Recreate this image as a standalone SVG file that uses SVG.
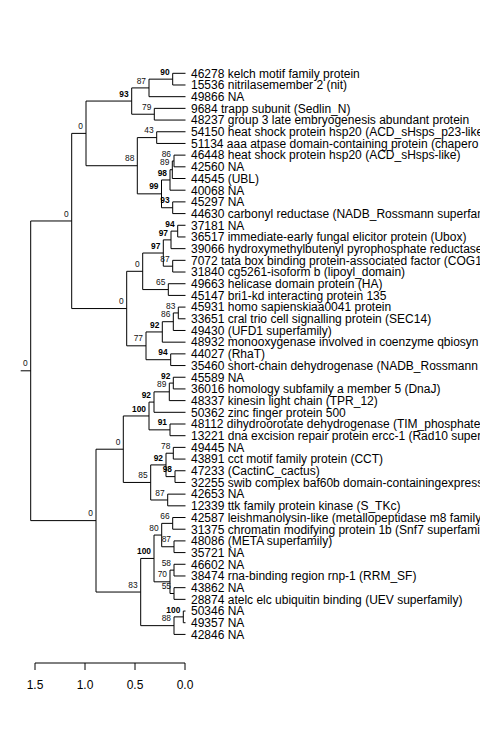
<svg xmlns="http://www.w3.org/2000/svg" width="480" height="735" viewBox="0 0 480 735">
<style>
.e{fill:none;stroke:#000;stroke-width:1}
.t{font-family:"Liberation Sans",Arial,sans-serif;font-size:12px;fill:#000}
.n{font-family:"Liberation Sans",Arial,sans-serif;font-size:8.4px;fill:#111;text-anchor:end}
.b{font-weight:bold;fill:#000}
.a{font-family:"Liberation Sans",Arial,sans-serif;font-size:12px;fill:#000;text-anchor:middle}
</style>
<rect width="480" height="735" fill="#fff"/>
<g id="connectors" class="e">
<path d="M20.7 370.8H30.7M30.7 220.98V520.62
M30.7 220.98H71.7M71.7 133.39V308.56
M71.7 133.39H86M86 101.06V165.72
M86 101.06H131.7M131.7 87.91V114.22
M131.7 87.91H149M149 79.15V96.68
M149 79.15H172.7M172.7 73.3V84.99
M172.7 73.3H185.5M172.7 84.99H185.5M149 96.68H185.5
M131.7 114.22H154.3M154.3 108.37V120.06M154.3 108.37H185.5M154.3 120.06H185.5
M86 165.72H137.3M137.3 137.6V193.85
M137.3 137.6H156.7M156.7 131.75V143.44M156.7 131.75H185.5M156.7 143.44H185.5
M137.3 193.85H161.5M161.5 179.97V207.74
M161.5 179.97H170M170 169.74V190.2
M170 169.74H172.3M172.3 160.98V178.51
M172.3 160.98H174M174 155.13V166.82M174 155.13H185.5M174 166.82H185.5
M172.3 178.51H185.5M170 190.2H185.5
M161.5 207.74H172.7M172.7 201.89V213.58M172.7 201.89H185.5M172.7 213.58H185.5"/>
<path d="M71.7 308.56H126.7M126.7 271.3V345.82
M126.7 271.3H142.7M142.7 253.03V289.57
M142.7 253.03H163.3M163.3 239.88V266.19
M163.3 239.88H171M171 231.12V248.65
M171 231.12H177.7M177.7 225.27V236.96M177.7 225.27H185.5M177.7 236.96H185.5
M171 248.65H185.5
M163.3 266.19H172.7M172.7 260.34V272.03M172.7 260.34H185.5M172.7 272.03H185.5
M142.7 289.57H168.3M168.3 283.72V295.41M168.3 283.72H185.5M168.3 295.41H185.5
M126.7 345.82H146M146 331.94V359.71
M146 331.94H162.3M162.3 321.71V342.17
M162.3 321.71H173.3M173.3 312.95V330.48
M173.3 312.95H178.3M178.3 307.1V318.79M178.3 307.1H185.5M178.3 318.79H185.5
M173.3 330.48H185.5M162.3 342.17H185.5
M146 359.71H170.7M170.7 353.86V365.55M170.7 353.86H185.5M170.7 365.55H185.5"/>
<path d="M30.7 520.62H96M96 449.21V592.04
M96 449.21H123.3M123.3 415.96V482.45
M123.3 415.96H149M149 402.08V429.85
M149 402.08H154M154 391.85V412.31
M154 391.85H169.3M169.3 383.09V400.62
M169.3 383.09H173.3M173.3 377.24V388.93M173.3 377.24H185.5M173.3 388.93H185.5
M169.3 400.62H185.5M154 412.31H185.5
M149 429.85H170M170 424V435.69M170 424H185.5M170 435.69H185.5
M123.3 482.45H150.7M150.7 464.92V499.99
M150.7 464.92H166M166 453.23V476.61
M166 453.23H173.3M173.3 447.38V459.07M173.3 447.38H185.5M173.3 459.07H185.5
M166 476.61H175M175 470.76V482.45M175 470.76H185.5M175 482.45H185.5
M150.7 499.99H167.7M167.7 494.14V505.83M167.7 494.14H185.5M167.7 505.83H185.5"/>
<path d="M96 592.04H140.7M140.7 558.44V625.65
M140.7 558.44H154M154 535.06V581.82
M154 535.06H161.7M161.7 523.37V546.75
M161.7 523.37H172.7M172.7 517.52V529.21M172.7 517.52H185.5M172.7 529.21H185.5
M161.7 546.75H174M174 540.9V552.59M174 540.9H185.5M174 552.59H185.5
M154 581.82H170M170 570.13V593.51
M170 570.13H174M174 564.28V575.97M174 564.28H185.5M174 575.97H185.5
M170 593.51H174M174 587.66V599.35M174 587.66H185.5M174 599.35H185.5
M140.7 625.65H174M174 616.89V634.42
M174 616.89H183.3M183.3 611.04V622.73M183.3 611.04H185.5M183.3 622.73H185.5
M174 634.42H185.5"/>
</g>
<g id="tips" class="t">
<g id="t1"><text x="191" y="77.6">46278 kelch motif family protein</text></g>
<g id="t2"><text x="191" y="89.29">15536 nitrilasemember 2 (nit)</text></g>
<g id="t3"><text x="191" y="100.98">49866 NA</text></g>
<g id="t4"><text x="191" y="112.67">9684 trapp subunit (Sedlin_N)</text></g>
<g id="t5"><text x="191" y="124.36">48237 group 3 late embryogenesis abundant protein</text></g>
<g id="t6"><text x="191" y="136.05">54150 heat shock protein hsp20 (ACD_sHsps_p23-like</text></g>
<g id="t7"><text x="191" y="147.74">51134 aaa atpase domain-containing protein (chapero</text></g>
<g id="t8"><text x="191" y="159.43">46448 heat shock protein hsp20 (ACD_sHsps-like)</text></g>
<g id="t9"><text x="191" y="171.12">42560 NA</text></g>
<g id="t10"><text x="191" y="182.81">44545 (UBL)</text></g>
<g id="t11"><text x="191" y="194.5">40068 NA</text></g>
<g id="t12"><text x="191" y="206.19">45297 NA</text></g>
<g id="t13"><text x="191" y="217.88">44630 carbonyl reductase (NADB_Rossmann superfam</text></g>
<g id="t14"><text x="191" y="229.57">37181 NA</text></g>
<g id="t15"><text x="191" y="241.26">36517 immediate-early fungal elicitor protein (Ubox)</text></g>
<g id="t16"><text x="191" y="252.95">39066 hydroxymethylbutenyl pyrophosphate reductase</text></g>
<g id="t17"><text x="191" y="264.64">7072 tata box binding protein-associated factor (COG1</text></g>
<g id="t18"><text x="191" y="276.33">31840 cg5261-isoform b (lipoyl_domain)</text></g>
<g id="t19"><text x="191" y="288.02">49663 helicase domain protein (HA)</text></g>
<g id="t20"><text x="191" y="299.71">45147 bri1-kd interacting protein 135</text></g>
<g id="t21"><text x="191" y="311.4">45931 homo sapienskiaa0041 protein</text></g>
<g id="t22"><text x="191" y="323.09">33651 cral trio cell signalling protein (SEC14)</text></g>
<g id="t23"><text x="191" y="334.78">49430 (UFD1 superfamily)</text></g>
<g id="t24"><text x="191" y="346.47">48932 monooxygenase involved in coenzyme qbiosyn</text></g>
<g id="t25"><text x="191" y="358.16">44027 (RhaT)</text></g>
<g id="t26"><text x="191" y="369.85">35460 short-chain dehydrogenase (NADB_Rossmann</text></g>
<g id="t27"><text x="191" y="381.54">45589 NA</text></g>
<g id="t28"><text x="191" y="393.23">36016 homology subfamily a member 5 (DnaJ)</text></g>
<g id="t29"><text x="191" y="404.92">48337 kinesin light chain (TPR_12)</text></g>
<g id="t30"><text x="191" y="416.61">50362 zinc finger protein 500</text></g>
<g id="t31"><text x="191" y="428.3">48112 dihydroorotate dehydrogenase (TIM_phosphate</text></g>
<g id="t32"><text x="191" y="439.99">13221 dna excision repair protein ercc-1 (Rad10 super</text></g>
<g id="t33"><text x="191" y="451.68">49445 NA</text></g>
<g id="t34"><text x="191" y="463.37">43891 cct motif family protein (CCT)</text></g>
<g id="t35"><text x="191" y="475.06">47233 (CactinC_cactus)</text></g>
<g id="t36"><text x="191" y="486.75">32255 swib complex baf60b domain-containingexpress</text></g>
<g id="t37"><text x="191" y="498.44">42653 NA</text></g>
<g id="t38"><text x="191" y="510.13">12339 ttk family protein kinase (S_TKc)</text></g>
<g id="t39"><text x="191" y="521.82">42587 leishmanolysin-like (metallopeptidase m8 family</text></g>
<g id="t40"><text x="191" y="533.51">31375 chromatin modifying protein 1b (Snf7 superfami</text></g>
<g id="t41"><text x="191" y="545.2">48086 (META superfamily)</text></g>
<g id="t42"><text x="191" y="556.89">35721 NA</text></g>
<g id="t43"><text x="191" y="568.58">46602 NA</text></g>
<g id="t44"><text x="191" y="580.27">38474 rna-binding region rnp-1 (RRM_SF)</text></g>
<g id="t45"><text x="191" y="591.96">43862 NA</text></g>
<g id="t46"><text x="191" y="603.65">28874 atelc elc ubiquitin binding (UEV superfamily)</text></g>
<g id="t47"><text x="191" y="615.34">50346 NA</text></g>
<g id="t48"><text x="191" y="627.03">49357 NA</text></g>
<g id="t49"><text x="191" y="638.72">42846 NA</text></g>
</g>
<g id="nodelabels" class="n">
<g id="root"><text x="27.7" y="366.4">0</text></g>
<g id="nB"><text x="68.7" y="216.6">0</text></g>
<g id="nA"><text x="83" y="129">0</text></g>
<g id="n93"><text class="b" x="128.7" y="96.7">93</text></g>
<g id="n87"><text x="146" y="83.5">87</text></g>
<g id="n90"><text class="b" x="169.7" y="74.75">90</text></g>
<g id="n79"><text x="151.3" y="109.8">79</text></g>
<g id="n88"><text x="134.3" y="161.3">88</text></g>
<g id="n43"><text x="153.7" y="133.2">43</text></g>
<g id="n99"><text class="b" x="158.5" y="189.45">99</text></g>
<g id="n98"><text class="b" x="167" y="175.6">98</text></g>
<g id="n89"><text x="169.3" y="165.3">89</text></g>
<g id="n86"><text x="171" y="156.6">86</text></g>
<g id="n93b"><text class="b" x="169.7" y="203.3">93</text></g>
<g id="nC"><text x="123.7" y="304.2">0</text></g>
<g id="n0c"><text x="139.7" y="266.9">0</text></g>
<g id="n97b"><text class="b" x="160.3" y="248.6">97</text></g>
<g id="n97a"><text class="b" x="168" y="235.5">97</text></g>
<g id="n94"><text class="b" x="174.7" y="226.7">94</text></g>
<g id="n87b"><text x="169.7" y="261.8">87</text></g>
<g id="n65"><text x="165.3" y="285.2">65</text></g>
<g id="n77"><text x="143" y="341.4">77</text></g>
<g id="n92a"><text class="b" x="159.3" y="327.5">92</text></g>
<g id="n86b"><text x="170.3" y="317.3">86</text></g>
<g id="n83"><text x="175.3" y="308.55">83</text></g>
<g id="n94b"><text class="b" x="167.7" y="355.3">94</text></g>
<g id="n0f"><text x="93" y="516.2">0</text></g>
<g id="n0e"><text x="120.3" y="444.8">0</text></g>
<g id="n100a"><text class="b" x="146" y="411.6">100</text></g>
<g id="n92c"><text class="b" x="151" y="397.7">92</text></g>
<g id="n89b"><text x="166.3" y="387.45">89</text></g>
<g id="n92b"><text class="b" x="170.3" y="378.7">92</text></g>
<g id="n91"><text class="b" x="167" y="425.45">91</text></g>
<g id="n85"><text x="147.7" y="478.05">85</text></g>
<g id="n92d"><text class="b" x="163" y="460.5">92</text></g>
<g id="n78"><text x="170.3" y="448.8">78</text></g>
<g id="n98b"><text class="b" x="172" y="472.2">98</text></g>
<g id="n87c"><text x="164.7" y="495.6">87</text></g>
<g id="n83b"><text x="137.7" y="587.6">83</text></g>
<g id="n100b"><text class="b" x="151" y="554">100</text></g>
<g id="n80"><text x="158.7" y="530.65">80</text></g>
<g id="n66"><text x="169.7" y="518.95">66</text></g>
<g id="n87d"><text x="171" y="542.35">87</text></g>
<g id="n70"><text x="167" y="577.4">70</text></g>
<g id="n58"><text x="171" y="565.7">58</text></g>
<g id="n55"><text x="171" y="589.1">55</text></g>
<g id="n88b"><text x="171" y="621.25">88</text></g>
<g id="n100c"><text class="b" x="180.3" y="612.5">100</text></g>
</g>
<g id="axis">
<path class="e" d="M35 663H185M35 663V670M85 663V670M135 663V670M185 663V670"/>
<text class="a" x="35" y="688.5">1.5</text>
<text class="a" x="85" y="688.5">1.0</text>
<text class="a" x="135" y="688.5">0.5</text>
<text class="a" x="185" y="688.5">0.0</text>
</g>
</svg>
